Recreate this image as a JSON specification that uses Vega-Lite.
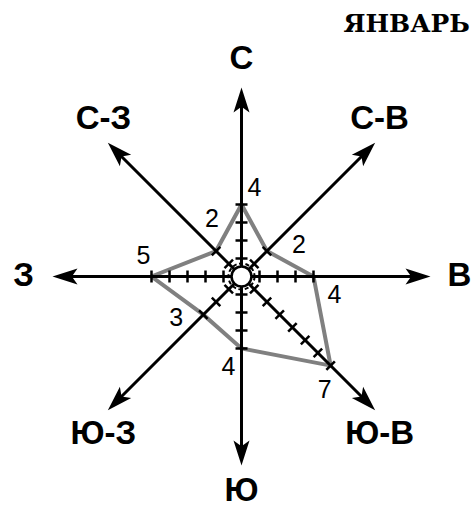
{
  "$schema": "https://vega.github.io/schema/vega-lite/v6.json",
  "width": 473,
  "height": 464,
  "autosize": "none",
  "padding": {"left": 0, "right": 0, "top": 45, "bottom": 0},
  "background": "white",
  "config": {"view": {"stroke": null}},
  "title": {"text": "ЯНВАРЬ", "anchor": "end", "frame": "group", "font": "DejaVu Serif", "fontSize": 25, "fontWeight": "bold", "color": "black", "offset": 6, "dx": -3},
  "datasets": {
    "dirs": [
      {"dir": "С", "b": 0, "v": 4},
      {"dir": "С-В", "b": 45, "v": 2},
      {"dir": "В", "b": 90, "v": 4},
      {"dir": "Ю-В", "b": 135, "v": 7},
      {"dir": "Ю", "b": 180, "v": 4},
      {"dir": "Ю-З", "b": 225, "v": 3},
      {"dir": "З", "b": 270, "v": 5},
      {"dir": "С-З", "b": 315, "v": 2}
    ],
    "ticks": [
      {"b": 0, "k": 1}, {"b": 0, "k": 2}, {"b": 0, "k": 3}, {"b": 0, "k": 4},
      {"b": 45, "k": 1}, {"b": 45, "k": 2},
      {"b": 90, "k": 1}, {"b": 90, "k": 2}, {"b": 90, "k": 3}, {"b": 90, "k": 4},
      {"b": 135, "k": 1}, {"b": 135, "k": 2}, {"b": 135, "k": 3}, {"b": 135, "k": 4}, {"b": 135, "k": 5}, {"b": 135, "k": 6}, {"b": 135, "k": 7},
      {"b": 180, "k": 1}, {"b": 180, "k": 2}, {"b": 180, "k": 3}, {"b": 180, "k": 4},
      {"b": 225, "k": 1}, {"b": 225, "k": 2}, {"b": 225, "k": 3},
      {"b": 270, "k": 1}, {"b": 270, "k": 2}, {"b": 270, "k": 3}, {"b": 270, "k": 4}, {"b": 270, "k": 5},
      {"b": 315, "k": 1}, {"b": 315, "k": 2}
    ],
    "center": [{"c": 0}]
  },
  "layer": [
    {
      "data": {"name": "dirs"},
      "transform": [
        {"calculate": "datum.v*sin(datum.b*PI/180)", "as": "px"},
        {"calculate": "datum.v*cos(datum.b*PI/180)", "as": "py"}
      ],
      "mark": {"type": "line", "interpolate": "linear-closed", "color": "#808080", "strokeWidth": 4, "strokeJoin": "miter"},
      "encoding": {
        "x": {"field": "px", "type": "quantitative", "scale": {"domain": [-13.417, 12.861], "nice": false, "zero": false}, "axis": null},
        "y": {"field": "py", "type": "quantitative", "scale": {"domain": [-12.917, 12.861], "nice": false, "zero": false}, "axis": null},
        "order": {"field": "b", "type": "quantitative"}
      }
    },
    {
      "data": {"name": "dirs"},
      "transform": [
        {"calculate": "0", "as": "z"},
        {"calculate": "10.0*sin(datum.b*PI/180)", "as": "ex"},
        {"calculate": "10.0*cos(datum.b*PI/180)", "as": "ey"}
      ],
      "mark": {"type": "rule", "color": "black", "strokeWidth": 3},
      "encoding": {
        "x": {"field": "z", "type": "quantitative", "scale": {"domain": [-13.417, 12.861], "nice": false, "zero": false}, "axis": null},
        "y": {"field": "z", "type": "quantitative", "scale": {"domain": [-12.917, 12.861], "nice": false, "zero": false}, "axis": null},
        "x2": {"field": "ex"},
        "y2": {"field": "ey"}
      }
    },
    {
      "data": {"name": "ticks"},
      "transform": [
        {"calculate": "datum.k*sin(datum.b*PI/180)", "as": "tx"},
        {"calculate": "datum.k*cos(datum.b*PI/180)", "as": "ty"}
      ],
      "mark": {"type": "point", "shape": "stroke", "size": 144, "strokeWidth": 2.5, "color": "black", "opacity": 1},
      "encoding": {
        "x": {"field": "tx", "type": "quantitative", "scale": {"domain": [-13.417, 12.861], "nice": false, "zero": false}, "axis": null},
        "y": {"field": "ty", "type": "quantitative", "scale": {"domain": [-12.917, 12.861], "nice": false, "zero": false}, "axis": null},
        "angle": {"field": "b", "type": "quantitative", "scale": null}
      }
    },
    {
      "data": {"name": "dirs"},
      "transform": [
        {"calculate": "9.806*sin(datum.b*PI/180)", "as": "ax"},
        {"calculate": "9.806*cos(datum.b*PI/180)", "as": "ay"}
      ],
      "mark": {"type": "point", "shape": "M0,-1L0.64,1L0,0.55L-0.64,1Z", "size": 625, "filled": true, "color": "black", "opacity": 1, "strokeWidth": 0},
      "encoding": {
        "x": {"field": "ax", "type": "quantitative", "scale": {"domain": [-13.417, 12.861], "nice": false, "zero": false}, "axis": null},
        "y": {"field": "ay", "type": "quantitative", "scale": {"domain": [-12.917, 12.861], "nice": false, "zero": false}, "axis": null},
        "angle": {"field": "b", "type": "quantitative", "scale": null}
      }
    },
    {
      "data": {"name": "center"},
      "mark": {"type": "point", "shape": "circle", "size": 679, "filled": false, "stroke": "black", "strokeWidth": 2, "strokeDash": [4, 2.5], "opacity": 1},
      "encoding": {
        "x": {"field": "c", "type": "quantitative", "scale": {"domain": [-13.417, 12.861], "nice": false, "zero": false}, "axis": null},
        "y": {"field": "c", "type": "quantitative", "scale": {"domain": [-12.917, 12.861], "nice": false, "zero": false}, "axis": null}
      }
    },
    {
      "data": {"name": "center"},
      "mark": {"type": "point", "shape": "circle", "size": 394, "filled": true, "fill": "white", "stroke": "black", "strokeWidth": 2.5, "opacity": 1, "fillOpacity": 1, "strokeOpacity": 1},
      "encoding": {
        "x": {"field": "c", "type": "quantitative", "scale": {"domain": [-13.417, 12.861], "nice": false, "zero": false}, "axis": null},
        "y": {"field": "c", "type": "quantitative", "scale": {"domain": [-12.917, 12.861], "nice": false, "zero": false}, "axis": null}
      }
    },
    {
      "data": {"name": "dirs"},
      "transform": [
        {"filter": "datum.b == 0"},
        {"calculate": "datum.v*sin(datum.b*PI/180)", "as": "px"},
        {"calculate": "datum.v*cos(datum.b*PI/180)", "as": "py"}
      ],
      "mark": {"type": "text", "font": "Liberation Sans", "fontSize": 25, "color": "black", "align": "center", "baseline": "middle", "dx": 13, "dy": -16},
      "encoding": {
        "x": {"field": "px", "type": "quantitative", "scale": {"domain": [-13.417, 12.861], "nice": false, "zero": false}, "axis": null},
        "y": {"field": "py", "type": "quantitative", "scale": {"domain": [-12.917, 12.861], "nice": false, "zero": false}, "axis": null},
        "text": {"field": "v", "type": "nominal"}
      }
    },
    {
      "data": {"name": "dirs"},
      "transform": [
        {"filter": "datum.b == 45"},
        {"calculate": "datum.v*sin(datum.b*PI/180)", "as": "px"},
        {"calculate": "datum.v*cos(datum.b*PI/180)", "as": "py"}
      ],
      "mark": {"type": "text", "font": "Liberation Sans", "fontSize": 25, "color": "black", "align": "center", "baseline": "middle", "dx": 32, "dy": -6},
      "encoding": {
        "x": {"field": "px", "type": "quantitative", "scale": {"domain": [-13.417, 12.861], "nice": false, "zero": false}, "axis": null},
        "y": {"field": "py", "type": "quantitative", "scale": {"domain": [-12.917, 12.861], "nice": false, "zero": false}, "axis": null},
        "text": {"field": "v", "type": "nominal"}
      }
    },
    {
      "data": {"name": "dirs"},
      "transform": [
        {"filter": "datum.b == 90"},
        {"calculate": "datum.v*sin(datum.b*PI/180)", "as": "px"},
        {"calculate": "datum.v*cos(datum.b*PI/180)", "as": "py"}
      ],
      "mark": {"type": "text", "font": "Liberation Sans", "fontSize": 25, "color": "black", "align": "center", "baseline": "middle", "dx": 21, "dy": 19},
      "encoding": {
        "x": {"field": "px", "type": "quantitative", "scale": {"domain": [-13.417, 12.861], "nice": false, "zero": false}, "axis": null},
        "y": {"field": "py", "type": "quantitative", "scale": {"domain": [-12.917, 12.861], "nice": false, "zero": false}, "axis": null},
        "text": {"field": "v", "type": "nominal"}
      }
    },
    {
      "data": {"name": "dirs"},
      "transform": [
        {"filter": "datum.b == 135"},
        {"calculate": "datum.v*sin(datum.b*PI/180)", "as": "px"},
        {"calculate": "datum.v*cos(datum.b*PI/180)", "as": "py"}
      ],
      "mark": {"type": "text", "font": "Liberation Sans", "fontSize": 25, "color": "black", "align": "center", "baseline": "middle", "dx": -6, "dy": 24},
      "encoding": {
        "x": {"field": "px", "type": "quantitative", "scale": {"domain": [-13.417, 12.861], "nice": false, "zero": false}, "axis": null},
        "y": {"field": "py", "type": "quantitative", "scale": {"domain": [-12.917, 12.861], "nice": false, "zero": false}, "axis": null},
        "text": {"field": "v", "type": "nominal"}
      }
    },
    {
      "data": {"name": "dirs"},
      "transform": [
        {"filter": "datum.b == 180"},
        {"calculate": "datum.v*sin(datum.b*PI/180)", "as": "px"},
        {"calculate": "datum.v*cos(datum.b*PI/180)", "as": "py"}
      ],
      "mark": {"type": "text", "font": "Liberation Sans", "fontSize": 25, "color": "black", "align": "center", "baseline": "middle", "dx": -13, "dy": 19},
      "encoding": {
        "x": {"field": "px", "type": "quantitative", "scale": {"domain": [-13.417, 12.861], "nice": false, "zero": false}, "axis": null},
        "y": {"field": "py", "type": "quantitative", "scale": {"domain": [-12.917, 12.861], "nice": false, "zero": false}, "axis": null},
        "text": {"field": "v", "type": "nominal"}
      }
    },
    {
      "data": {"name": "dirs"},
      "transform": [
        {"filter": "datum.b == 225"},
        {"calculate": "datum.v*sin(datum.b*PI/180)", "as": "px"},
        {"calculate": "datum.v*cos(datum.b*PI/180)", "as": "py"}
      ],
      "mark": {"type": "text", "font": "Liberation Sans", "fontSize": 25, "color": "black", "align": "center", "baseline": "middle", "dx": -27, "dy": 3},
      "encoding": {
        "x": {"field": "px", "type": "quantitative", "scale": {"domain": [-13.417, 12.861], "nice": false, "zero": false}, "axis": null},
        "y": {"field": "py", "type": "quantitative", "scale": {"domain": [-12.917, 12.861], "nice": false, "zero": false}, "axis": null},
        "text": {"field": "v", "type": "nominal"}
      }
    },
    {
      "data": {"name": "dirs"},
      "transform": [
        {"filter": "datum.b == 270"},
        {"calculate": "datum.v*sin(datum.b*PI/180)", "as": "px"},
        {"calculate": "datum.v*cos(datum.b*PI/180)", "as": "py"}
      ],
      "mark": {"type": "text", "font": "Liberation Sans", "fontSize": 25, "color": "black", "align": "center", "baseline": "middle", "dx": -8, "dy": -20},
      "encoding": {
        "x": {"field": "px", "type": "quantitative", "scale": {"domain": [-13.417, 12.861], "nice": false, "zero": false}, "axis": null},
        "y": {"field": "py", "type": "quantitative", "scale": {"domain": [-12.917, 12.861], "nice": false, "zero": false}, "axis": null},
        "text": {"field": "v", "type": "nominal"}
      }
    },
    {
      "data": {"name": "dirs"},
      "transform": [
        {"filter": "datum.b == 315"},
        {"calculate": "datum.v*sin(datum.b*PI/180)", "as": "px"},
        {"calculate": "datum.v*cos(datum.b*PI/180)", "as": "py"}
      ],
      "mark": {"type": "text", "font": "Liberation Sans", "fontSize": 25, "color": "black", "align": "center", "baseline": "middle", "dx": -4, "dy": -32},
      "encoding": {
        "x": {"field": "px", "type": "quantitative", "scale": {"domain": [-13.417, 12.861], "nice": false, "zero": false}, "axis": null},
        "y": {"field": "py", "type": "quantitative", "scale": {"domain": [-12.917, 12.861], "nice": false, "zero": false}, "axis": null},
        "text": {"field": "v", "type": "nominal"}
      }
    },
    {
      "data": {"name": "dirs"},
      "transform": [
        {"calculate": "sin(datum.b*PI/180)*(datum.b % 90 == 0 ? 12.1 : 10.85)", "as": "lx"},
        {"calculate": "cos(datum.b*PI/180)*(datum.b == 180 ? 11.9 : (datum.b % 90 == 0 ? 12.1 : 12.4))", "as": "ly"}
      ],
      "mark": {"type": "text", "font": "Liberation Sans", "fontSize": 33, "fontWeight": "bold", "color": "black", "align": "center", "baseline": "middle"},
      "encoding": {
        "x": {"field": "lx", "type": "quantitative", "scale": {"domain": [-13.417, 12.861], "nice": false, "zero": false}, "axis": null},
        "y": {"field": "ly", "type": "quantitative", "scale": {"domain": [-12.917, 12.861], "nice": false, "zero": false}, "axis": null},
        "text": {"field": "dir", "type": "nominal"}
      }
    }
  ]
}
